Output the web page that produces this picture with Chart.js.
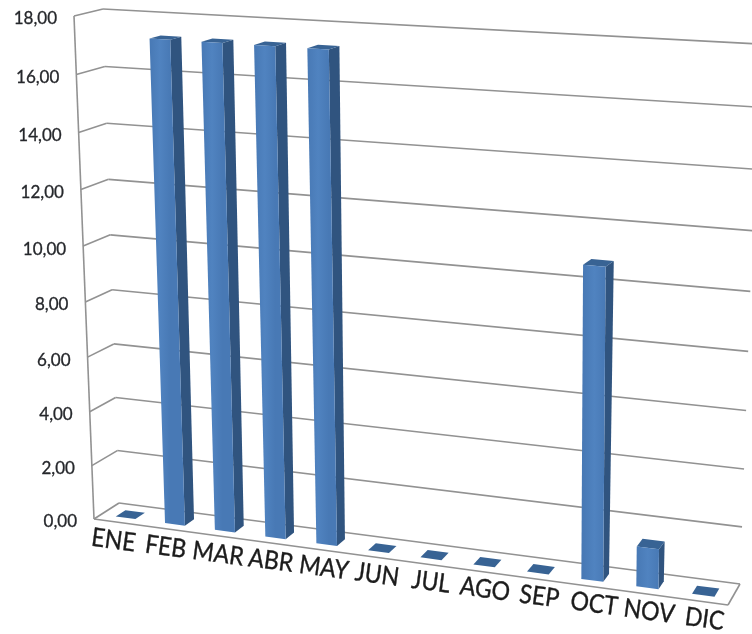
<!DOCTYPE html>
<html>
<head>
<meta charset="utf-8">
<style>
  html, body { margin: 0; padding: 0; background: #fff; }
  canvas { display: block; }
</style>
<script src="https://cdn.jsdelivr.net/npm/chart.js@4"></script>
</head>
<body>
<canvas id="myChart" width="752" height="634"></canvas>
<script>
const months = ['ENE', 'FEB', 'MAR', 'ABR', 'MAY', 'JUN', 'JUL', 'AGO', 'SEP', 'OCT', 'NOV', 'DIC'];
const values = [0, 17.3, 17.3, 17.3, 17.3, 0, 0, 0, 0, 10.8, 1.4, 0];
const yMax = 18;
const yStep = 2;

// box corners on screen, z 0 is the back wall and z 1 the front of the floor
const backBox = { bl: [119, 503], br: [740, 584], tl: [103, 9], tr: [759, 44] };
const frontBox = { bl: [94, 519], br: [728, 605], tl: [74, 16], tr: [735, 56] };

// perspective weights, the right side, the top and the front are nearer
const wU = -0.07, wV = -0.05, wZ = -0.02;

function project(u, v, z) {
  let sx = 0, sy = 0, sw = 0;
  const add = (p, cu, cv, cz) => {
    const w = 1 + wU * cu + wV * cv + wZ * cz;
    const k = (cu ? u : 1 - u) * (cv ? v : 1 - v) * (cz ? z : 1 - z) * w;
    sx += k * p[0];
    sy += k * p[1];
    sw += k;
  };
  add(backBox.bl, 0, 0, 0); add(backBox.br, 1, 0, 0);
  add(backBox.tl, 0, 1, 0); add(backBox.tr, 1, 1, 0);
  add(frontBox.bl, 0, 0, 1); add(frontBox.br, 1, 0, 1);
  add(frontBox.tl, 0, 1, 1); add(frontBox.tr, 1, 1, 1);
  return [sx / sw, sy / sw];
}

function line(ctx, a, b) {
  ctx.beginPath();
  ctx.moveTo(a[0], a[1]);
  ctx.lineTo(b[0], b[1]);
  ctx.stroke();
}

function face(ctx, pts, fill) {
  ctx.beginPath();
  pts.forEach((p, i) => i ? ctx.lineTo(p[0], p[1]) : ctx.moveTo(p[0], p[1]));
  ctx.closePath();
  ctx.fillStyle = fill;
  ctx.fill();
}

// pixel positions from the scales turned into 0..1 box coordinates
function toU(chart, px) {
  const a = chart.chartArea;
  return (px - a.left) / (a.right - a.left);
}
function toV(chart, py) {
  const a = chart.chartArea;
  return (a.bottom - py) / (a.bottom - a.top);
}

const box3d = {
  id: 'box3d',
  beforeDatasetsDraw(chart) {
    const ctx = chart.ctx, yScale = chart.scales.y;
    ctx.save();
    ctx.strokeStyle = '#929292';
    ctx.lineWidth = 1.6;
    yScale.ticks.forEach(t => {
      const v = toV(chart, yScale.getPixelForValue(t.value));
      line(ctx, project(0, v, 1), project(0, v, 0));
      line(ctx, project(0, v, 0), project(1, v, 0));
    });
    line(ctx, project(0, 0, 1), project(0, 1, 1));
    line(ctx, project(0, 0, 1), project(1, 0, 1));
    line(ctx, project(1, 0, 1), project(1, 0, 0));

    ctx.fillStyle = '#26282c';
    ctx.strokeStyle = '#26282c';
    ctx.lineWidth = 0.3;
    ctx.font = '17px Lato';
    ctx.textAlign = 'right';
    ctx.textBaseline = 'middle';
    yScale.ticks.forEach(t => {
      const p = project(0, toV(chart, yScale.getPixelForValue(t.value)), 1);
      ctx.fillText(t.label, p[0] - 17, p[1] + 3);
      ctx.strokeText(t.label, p[0] - 17, p[1] + 3);
    });
    ctx.restore();
  },
  afterDatasetsDraw(chart) {
    const ctx = chart.ctx, xScale = chart.scales.x;
    const zNear = 0.72, zFar = 0.33;
    ctx.save();
    chart.getDatasetMeta(0).data.forEach(bar => {
      const uL = toU(chart, bar.x - bar.width / 2), uR = toU(chart, bar.x + bar.width / 2);
      const vT = toV(chart, bar.y), vB = toV(chart, bar.base);
      const fbl = project(uL, vB, zNear), fbr = project(uR, vB, zNear);
      const ftl = project(uL, vT, zNear), ftr = project(uR, vT, zNear);
      const bbr = project(uR, vB, zFar);
      const btl = project(uL, vT, zFar), btr = project(uR, vT, zFar);
      face(ctx, [fbr, ftr, btr, bbr], '#30547f');
      face(ctx, [ftl, ftr, btr, btl], '#386394');
      const g = ctx.createLinearGradient(ftl[0], 0, ftr[0], 0);
      g.addColorStop(0, '#4879b5');
      g.addColorStop(0.5, '#5083c0');
      g.addColorStop(1, '#4879b5');
      face(ctx, [fbl, fbr, ftr, ftl], g);
    });

    // month names follow the slope of the floor edge, a little more evenly spaced
    const a = project(0, 0, 1), b = project(1, 0, 1);
    const slope = Math.atan2(b[1] - a[1], b[0] - a[0]);
    ctx.fillStyle = '#1c1c1c';
    ctx.strokeStyle = '#1c1c1c';
    ctx.lineWidth = 0.35;
    ctx.font = '23px Lato';
    ctx.textAlign = 'center';
    ctx.textBaseline = 'middle';
    months.forEach((m, i) => {
      const u = toU(chart, xScale.getPixelForValue(i));
      const p = project(u, 0, 1);
      const even = a[0] + u * (b[0] - a[0]);
      const x = (p[0] + even) / 2;
      ctx.save();
      ctx.translate(x + (x - 410) * 0.017 - 1, p[1] + 18);
      ctx.rotate(slope);
      ctx.scale(1, 1.12);
      ctx.fillText(m, 0, 0);
      ctx.strokeText(m, 0, 0);
      ctx.restore();
    });
    ctx.restore();
  }
};

const ctx = document.getElementById('myChart').getContext('2d');
const myChart = new Chart(ctx, {
  type: 'bar',
  data: {
    labels: months,
    datasets: [{
      data: values,
      backgroundColor: 'transparent',
      categoryPercentage: 1,
      barPercentage: 0.4
    }]
  },
  options: {
    responsive: false,
    animation: false,
    scales: {
      x: { display: false },
      y: {
        display: false,
        min: 0,
        max: yMax,
        ticks: {
          stepSize: yStep,
          callback: v => v.toFixed(2).replace('.', ',')
        }
      }
    },
    plugins: {
      legend: { display: false },
      tooltip: { enabled: false }
    }
  },
  plugins: [box3d]
});
</script>
</body>
</html>
